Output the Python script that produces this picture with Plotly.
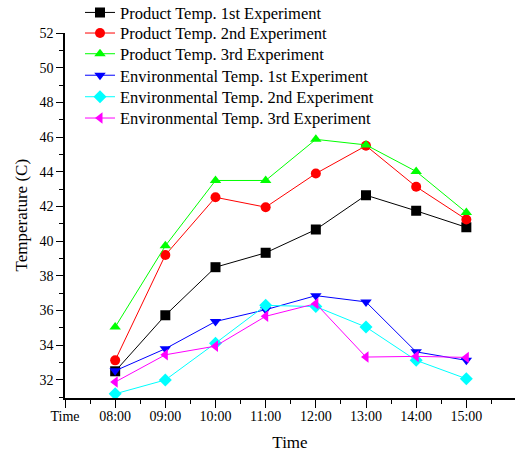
import plotly.graph_objects as go

tick_labels = ["Time", "08:00", "09:00", "10:00", "11:00", "12:00", "13:00", "14:00", "15:00"]
times = ["08:00", "09:00", "10:00", "11:00", "12:00", "13:00", "14:00", "15:00"]

product_1st = [32.5, 35.73, 38.5, 39.33, 40.67, 42.65, 41.75, 40.8]
product_2nd = [33.13, 39.2, 42.53, 41.96, 43.9, 45.5, 43.14, 41.25]
product_3rd = [35.05, 39.73, 43.5, 43.5, 45.87, 45.55, 44.02, 41.65]
env_1st = [32.53, 33.8, 35.37, 36.05, 36.86, 36.5, 33.62, 33.13]
env_2nd = [31.2, 32.0, 34.12, 36.3, 36.23, 35.05, 33.13, 32.07]
env_3rd = [31.88, 33.45, 33.95, 35.67, 36.4, 33.32, 33.36, 33.3]

series = [
    ("Product Temp. 1st Experiment", product_1st, "#000000", "square"),
    ("Product Temp. 2nd Experiment", product_2nd, "#FF0000", "circle"),
    ("Product Temp. 3rd Experiment", product_3rd, "#00FF00", "triangle-up"),
    ("Environmental Temp. 1st Experiment", env_1st, "#0000FF", "triangle-down"),
    ("Environmental Temp. 2nd Experiment", env_2nd, "#00FFFF", "diamond"),
    ("Environmental Temp. 3rd Experiment", env_3rd, "#FF00FF", "triangle-left"),
]

xpos = [tick_labels.index(t) for t in times]

FONT = "Liberation Serif, Times New Roman, serif"
H = 455
B = 57
PLOT_H = H - B          # paper height in px (t=0)
TOP_PX = 32.5           # top of y axis from figure top
legend_centers_px = [12.7, 33.3, 54, 75.5, 97, 118.3]

fig = go.Figure()
layout_legends = {}
for i, (name, vals, col, sym) in enumerate(series):
    lg = "legend" if i == 0 else f"legend{i+1}"
    fig.add_trace(go.Scatter(
        x=xpos, y=vals, name=name, mode="lines+markers",
        line=dict(color=col, width=1),
        marker=dict(symbol=sym, size=10, color=col),
        legend=lg,
    ))
    layout_legends[lg] = dict(
        x=(80 - 65) / 450, y=(PLOT_H - legend_centers_px[i]) / PLOT_H,
        xanchor="left", yanchor="middle",
        bgcolor="rgba(0,0,0,0)", font=dict(family=FONT, size=16.5),
    )

fig.update_layout(
    width=515, height=H,
    margin=dict(l=65, r=0, t=0, b=B, autoexpand=False),
    paper_bgcolor="white", plot_bgcolor="white",
    font=dict(family=FONT, size=14, color="black"),
    showlegend=True,
    xaxis=dict(
        range=[0, 8.97], tickvals=list(range(len(tick_labels))), ticktext=tick_labels,
        showgrid=False, zeroline=False, showline=True, linecolor="black", linewidth=1.5,
        ticks="outside", ticklen=8, tickwidth=1.2, tickcolor="black",
        ticklabelstandoff=-4,
        minor=dict(dtick=0.5, tick0=0, ticks="outside", ticklen=4, tickcolor="black"),
        title=dict(text="Time", font=dict(size=17), standoff=14),
        tickfont=dict(size=14), automargin=False,
    ),
    yaxis=dict(
        domain=[0, (PLOT_H - TOP_PX) / PLOT_H],
        range=[30.96, 52.03], tickvals=[32, 34, 36, 38, 40, 42, 44, 46, 48, 50, 52],
        showgrid=False, zeroline=False, showline=True, linecolor="black", linewidth=1.5,
        ticks="outside", ticklen=7, tickwidth=1.2, tickcolor="black",
        minor=dict(dtick=1, tick0=31, ticks="outside", ticklen=4, tickcolor="black"),
        title=dict(text="Temperature (C)", font=dict(size=17), standoff=8),
        tickfont=dict(size=14), automargin=False,
    ),
    **layout_legends,
)

fig.write_html("out.html", config={"displayModeBar": False},
               post_script="document.body.style.margin='0';")
